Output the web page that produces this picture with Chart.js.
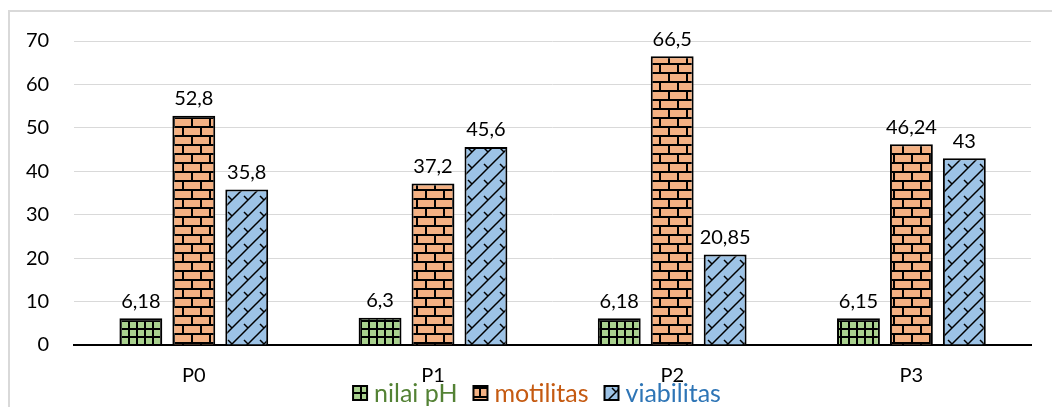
<!DOCTYPE html>
<html>
<head>
<meta charset="utf-8">
<script src="https://cdn.jsdelivr.net/npm/chart.js@4.4.1/dist/chart.umd.min.js"></script>
<style>
  html, body { margin: 0; padding: 0; background: #fff; }
  #wrap { position: absolute; left: 0; top: 0; width: 1052px; height: 407px; }
  #frame { position: absolute; left: 8px; top: 10px; width: 1060px; height: 420px;
           border-left: 2px solid #d9d9d9; border-top: 2px solid #d9d9d9; }
  canvas { position: absolute; left: 0; top: 0; }
</style>
</head>
<body>
<div id="wrap">
  <div id="frame"></div>
  <canvas id="chart" width="1052" height="407"></canvas>
</div>
<script>
const categories = ['P0', 'P1', 'P2', 'P3']
const nilaiPH    = [6.18, 6.3, 6.18, 6.15]
const motilitas  = [52.8, 37.2, 66.5, 46.24]
const viabilitas = [35.8, 45.6, 20.85, 43]
const yTicks     = [0, 10, 20, 30, 40, 50, 60, 70]
const legendColors = ['#548235', '#c55a11', '#2e75b6']

const FONT = 'Lato, "Open Sans", sans-serif'

// small square grid, green
function gridPattern() {
  const c = document.createElement('canvas'); c.width = 8; c.height = 8
  const g = c.getContext('2d')
  g.fillStyle = '#a9d18e'; g.fillRect(0, 0, 8, 8)
  g.fillStyle = '#000'
  g.fillRect(0, 0, 8, 2); g.fillRect(0, 0, 2, 8)
  return g.createPattern(c, 'repeat')
}

// horizontal brick, orange
function brickPattern() {
  const w = 18, h = 18
  const c = document.createElement('canvas'); c.width = w; c.height = h
  const g = c.getContext('2d')
  g.fillStyle = '#f4b183'; g.fillRect(0, 0, w, h)
  g.fillStyle = '#000'
  g.fillRect(0, 0, w, 2); g.fillRect(0, 9, w, 2)
  g.fillRect(2, 0, 2, 9); g.fillRect(11, 9, 2, 9)
  return g.createPattern(c, 'repeat')
}

// shingle: long up-right strokes with short down-right steps, blue
function shinglePattern() {
  const s = 16
  const c = document.createElement('canvas'); c.width = s; c.height = s
  const g = c.getContext('2d')
  g.fillStyle = '#9dc3e6'; g.fillRect(0, 0, s, s)
  g.strokeStyle = '#000'; g.lineWidth = 1.5
  g.beginPath()
  g.moveTo(-2, s + 2); g.lineTo(s + 2, -2)
  g.moveTo(-2, 2); g.lineTo(2, -2)
  g.moveTo(s - 2, s + 2); g.lineTo(s + 2, s - 2)
  g.moveTo(4, 4); g.lineTo(8, 8)
  g.stroke()
  return g.createPattern(c, 'repeat')
}

const valueLabels = {
  id: 'valueLabels',
  afterDatasetsDraw(chart) {
    const ctx = chart.ctx
    ctx.save()
    ctx.font = '20px ' + FONT
    ctx.fillStyle = '#000'
    ctx.textAlign = 'center'
    ctx.textBaseline = 'bottom'
    chart.data.datasets.forEach((ds, i) => {
      chart.getDatasetMeta(i).data.forEach((bar, j) => {
        const txt = String(ds.data[j]).replace('.', ',')
        ctx.fillText(txt, bar.x, bar.y - 7)
      })
    })
    ctx.restore()
  }
}

// legend row under the axis labels, drawn by hand so it can sit close to them
const bottomLegend = {
  id: 'bottomLegend',
  afterDraw(chart) {
    const ctx = chart.ctx
    const box = 14, gap = 7, spacing = 16, cy = 393
    ctx.save()
    ctx.font = '25px ' + FONT
    ctx.textBaseline = 'middle'
    const items = chart.data.datasets.map((ds, i) => ({
      ds, color: legendColors[i], w: box + gap + ctx.measureText(ds.label).width,
    }))
    const total = items.reduce((a, it) => a + it.w, 0) + spacing * (items.length - 1)
    let x = 537 - total / 2
    items.forEach(it => {
      ctx.fillStyle = it.ds.backgroundColor
      ctx.fillRect(x, cy - box / 2, box, box)
      ctx.lineWidth = 2; ctx.strokeStyle = '#000'
      ctx.strokeRect(x, cy - box / 2, box, box)
      ctx.fillStyle = it.color
      ctx.fillText(it.ds.label, x + box + gap, cy + 1)
      x += it.w + spacing
    })
    ctx.restore()
  }
}

new Chart(document.getElementById('chart'), {
  type: 'bar',
  data: {
    labels: categories,
    datasets: [
      { label: 'nilai pH',   data: nilaiPH,    backgroundColor: gridPattern() },
      { label: 'motilitas',  data: motilitas,  backgroundColor: brickPattern() },
      { label: 'viabilitas', data: viabilitas, backgroundColor: shinglePattern() },
    ].map(d => ({ ...d, borderColor: '#000', borderWidth: 2,
                  categoryPercentage: 0.664, barPercentage: 0.81 })),
  },
  options: {
    responsive: false,
    animation: false,
    layout: { padding: { left: 1, right: 21, top: 41, bottom: 8 } },
    plugins: {
      tooltip: { enabled: false },
      legend: { display: false },
    },
    scales: {
      x: {
        grid: { display: false },
        border: { color: '#000', width: 2 },
        ticks: { color: '#000', font: { family: FONT, size: 20 }, padding: 11 },
      },
      y: {
        min: 0, max: 70,
        afterBuildTicks: s => { s.ticks = yTicks.map(v => ({ value: v })) },
        grid: { color: '#d9d9d9', drawTicks: false, lineWidth: 1 },
        border: { display: false },
        ticks: { color: '#000', font: { family: FONT, size: 20 }, padding: 25 },
      },
    },
  },
  plugins: [valueLabels, bottomLegend],
})
</script>
</body>
</html>
